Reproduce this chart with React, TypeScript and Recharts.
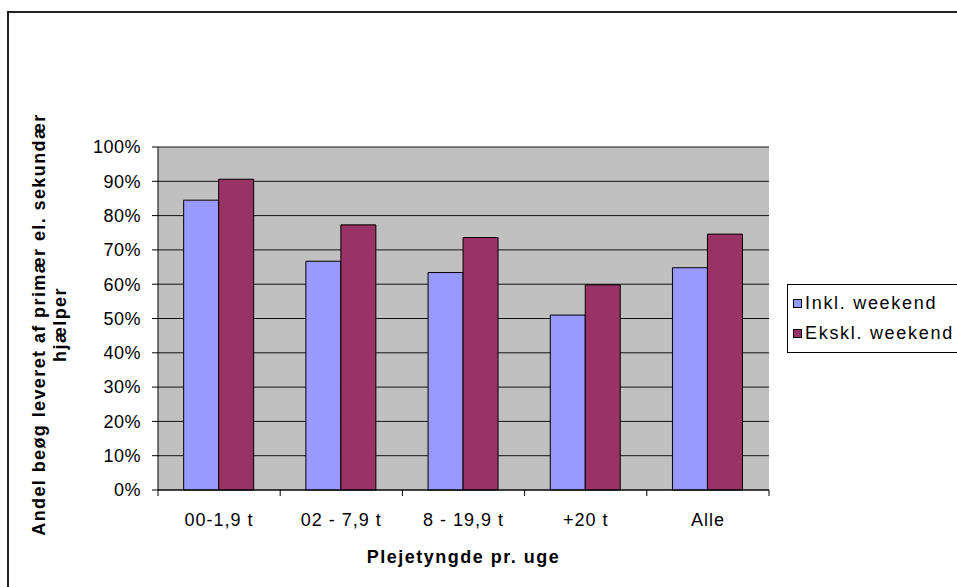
import React from 'react';
import { BarChart, Bar, XAxis, YAxis, CartesianGrid } from 'recharts';

const categories = ['00-1,9 t', '02 - 7,9 t', '8 - 19,9 t', '+20 t', 'Alle'];
const inklValues = [0.845, 0.667, 0.634, 0.51, 0.648];
const eksklValues = [0.906, 0.773, 0.736, 0.598, 0.746];
const yTicks = [0, 0.1, 0.2, 0.3, 0.4, 0.5, 0.6, 0.7, 0.8, 0.9, 1];
const seriesKeys = ['inkl', 'ekskl'];
const seriesNames = ['Inkl. weekend', 'Ekskl. weekend'];
const seriesColors = ['#9999FF', '#993366'];
const yTitleLines = ['Andel beøg leveret af primær el. sekundær', 'hjælper'];
const xTitle = 'Plejetyngde pr. uge';

const data = categories.map((c, i) => ({ name: c, inkl: inklValues[i], ekskl: eksklValues[i] }));

const W = 957;
const H = 587;
const M = { top: 147, right: 188, bottom: 0, left: 0 };
const Y_W = 158;
const X_H = 97;
const PLOT_W = W - M.left - M.right - Y_W;
const FONT = '"Liberation Sans", Arial, sans-serif';

const XTick = (props: any) => {
  const { x, y, payload, index } = props;
  const band = PLOT_W / categories.length;
  return (
    <g>
      <line x1={x - band / 2} y1={y} x2={x - band / 2} y2={y + 6} stroke="#000" />
      {index === categories.length - 1 && (
        <line x1={x + band / 2} y1={y} x2={x + band / 2} y2={y + 6} stroke="#000" />
      )}
      <text
        x={x}
        y={y + 30}
        textAnchor="middle"
        dominantBaseline="central"
        fontFamily={FONT}
        fontSize={18}
        letterSpacing={1}
        fill="#000"
      >
        {payload.value}
      </text>
    </g>
  );
};

const YTitle = (props: any) => {
  const vb = props.viewBox || {};
  const cy = (vb.y ?? 147) + (vb.height ?? 343) / 2 + 6;
  return (
    <text
      transform={`translate(49.5, ${cy}) rotate(-90)`}
      textAnchor="middle"
      fontFamily={FONT}
      fontSize={18}
      fontWeight="bold"
      letterSpacing={1.4}
      fill="#000"
    >
      <tspan x={0} y={-10.5} dominantBaseline="central">{yTitleLines[0]}</tspan>
      <tspan x={0} y={10.5} dominantBaseline="central">{yTitleLines[1]}</tspan>
    </text>
  );
};

const XTitle = (props: any) => {
  const vb = props.viewBox || {};
  const cx = (vb.x ?? 158) + (vb.width ?? PLOT_W) / 2;
  return (
    <text
      x={cx}
      y={557}
      textAnchor="middle"
      dominantBaseline="central"
      fontFamily={FONT}
      fontSize={18}
      fontWeight="bold"
      letterSpacing={1.5}
      fill="#000"
    >
      {xTitle}
    </text>
  );
};

export default function App() {
  return (
    <div
      style={{
        position: 'fixed',
        left: 0,
        top: 0,
        width: W,
        height: H,
        overflow: 'hidden',
        background: '#fff',
      }}
    >
      <div
        style={{
          position: 'absolute',
          left: 7,
          top: 11,
          width: 1100,
          height: 800,
          border: '2px solid #222',
          boxSizing: 'border-box',
        }}
      />
      <div style={{ position: 'absolute', left: 0, top: 0 }}>
        <BarChart
          width={W}
          height={H}
          data={data}
          margin={M}
          barGap={0}
          barCategoryGap="21%"
        >
          <CartesianGrid
            vertical={false}
            stroke="#000"
            strokeOpacity={0.9}
            fill="#C0C0C0"
            fillOpacity={1}
          />
          <XAxis
            dataKey="name"
            height={X_H}
            tickLine={false}
            tickSize={0}
            tickMargin={0}
            axisLine={{ stroke: '#000' }}
            tick={<XTick />}
            interval={0}
            label={{ content: <XTitle /> }}
          />
          <YAxis
            width={Y_W}
            domain={[0, 1]}
            ticks={yTicks}
            tickFormatter={(v: number) => `${Math.round(v * 100)}%`}
            tickSize={6}
            tickMargin={11}
            axisLine={{ stroke: '#000' }}
            tickLine={{ stroke: '#000' }}
            tick={{ fill: '#000', fontFamily: FONT, fontSize: 18, letterSpacing: 0.5 }}
            interval={0}
            label={{ content: <YTitle /> }}
          />
          <YAxis
            yAxisId="r"
            orientation="right"
            width={0}
            tick={false}
            tickLine={false}
            axisLine={{ stroke: '#808080' }}
          />
          {seriesKeys.map((k, i) => (
            <Bar
              key={k}
              dataKey={k}
              name={seriesNames[i]}
              fill={seriesColors[i]}
              stroke="#000"
              strokeWidth={1}
              isAnimationActive={false}
            />
          ))}
        </BarChart>
      </div>
      <div
        style={{
          position: 'absolute',
          left: 787,
          top: 284,
          width: 220,
          height: 69,
          border: '1px solid #000',
          boxSizing: 'border-box',
          background: '#fff',
          fontFamily: FONT,
          fontSize: 18,
          letterSpacing: 1.7,
          color: '#000',
        }}
      >
        {seriesNames.map((n, i) => (
          <div
            key={n}
            style={{
              position: 'absolute',
              left: 5,
              top: i === 0 ? 8 : 38,
              height: 20,
              display: 'flex',
              alignItems: 'center',
              whiteSpace: 'nowrap',
            }}
          >
            <span
              style={{
                display: 'inline-block',
                width: 9,
                height: 9,
                boxSizing: 'border-box',
                border: '1px solid #000',
                background: seriesColors[i],
                marginRight: 3,
              }}
            />
            <span>{n}</span>
          </div>
        ))}
      </div>
    </div>
  );
}
